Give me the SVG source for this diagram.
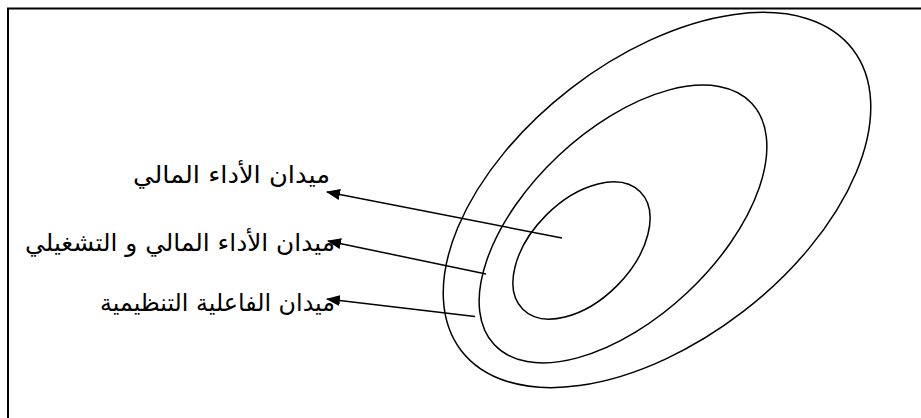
<svg xmlns="http://www.w3.org/2000/svg" width="921" height="418" viewBox="0 0 921 418">
<defs>
<style>
.frame{fill:none;stroke:#000;stroke-width:2}
.ring{fill:none;stroke:#000;stroke-width:1.5}
.conn{stroke:#000;stroke-width:1.5;fill:none;marker-end:url(#ah)}
.lbl{font-family:"DejaVu Sans","Liberation Sans",sans-serif;font-size:24px;fill:#000;text-anchor:end}
</style>
<marker id="ah" viewBox="0 0 14 11" refX="13" refY="5.5" markerWidth="14" markerHeight="11" markerUnits="userSpaceOnUse" orient="auto">
<path d="M0,0 L14,5.5 L0,11 Z" fill="#000"/>
</marker>
</defs>
<rect width="921" height="418" fill="#fff"/>
<path class="frame" d="M8,418 L8,8.5 L921,8.5"/>
<g id="outer"><ellipse class="ring" cx="657" cy="200" rx="247" ry="141" transform="rotate(-37.6 657 200)"/></g>
<g id="middle"><ellipse class="ring" cx="623" cy="224" rx="176.5" ry="94" transform="rotate(-43.2 623 224)"/></g>
<g id="inner"><ellipse class="ring" cx="581.5" cy="250.5" rx="83" ry="50" transform="rotate(-45 581.5 250.5)"/></g>
<g id="connectors">
<line class="conn" x1="562" y1="238" x2="327" y2="192"/>
<line class="conn" x1="486" y1="274" x2="328" y2="241"/>
<line class="conn" x1="475" y1="316.5" x2="327" y2="299"/>
</g>
<g id="label1"><text class="lbl" x="330" y="183" textLength="197" lengthAdjust="spacingAndGlyphs">ميدان الأداء المالي</text></g>
<g id="label2"><text class="lbl" x="335" y="251" textLength="310" lengthAdjust="spacingAndGlyphs">ميدان الأداء المالي و التشغيلي</text></g>
<g id="label3"><text class="lbl" x="335" y="311" textLength="235" lengthAdjust="spacingAndGlyphs">ميدان الفاعلية التنظيمية</text></g>
</svg>
